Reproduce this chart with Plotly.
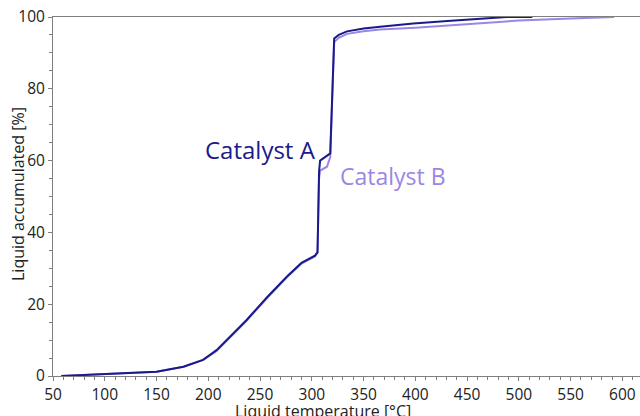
import plotly.graph_objects as go

# Catalyst A data
temp_a = [58, 86, 118, 150, 176, 195, 208, 218, 237, 257, 276, 290, 303, 305.5, 307, 308, 317.8, 321.6, 326, 334, 350, 366, 398, 431, 488, 513]
liq_a = [0.0, 0.4, 0.8, 1.2, 2.6, 4.5, 7.2, 10.0, 15.6, 22.0, 27.7, 31.5, 33.5, 34.5, 57.0, 60.0, 62.0, 94.0, 95.0, 96.0, 96.8, 97.3, 98.2, 98.9, 100.0, 100.0]

# Catalyst B data
temp_b = [58, 86, 118, 150, 176, 195, 208, 218, 237, 257, 276, 290, 303, 305.5, 307, 308, 314.6, 317.8, 321.6, 326, 334, 350, 366, 400, 450, 500, 550, 592]
liq_b = [0.0, 0.4, 0.8, 1.2, 2.6, 4.5, 7.0, 9.8, 15.4, 21.8, 27.5, 31.3, 33.3, 34.3, 55.0, 57.2, 58.3, 61.0, 93.0, 94.2, 95.3, 96.0, 96.5, 97.0, 98.0, 99.0, 99.6, 100.0]

x_title = "Liquid temperature [°C]"
y_title = "Liquid accumulated [%]"

color_a = "#1a1a8c"
color_b = "#9a86e6"
font_family = "Open Sans"
text_color = "#222222"

fig = go.Figure()
fig.add_trace(go.Scatter(x=temp_b, y=liq_b, mode="lines", line=dict(color=color_b, width=2), name="Catalyst B"))
fig.add_trace(go.Scatter(x=temp_a, y=liq_a, mode="lines", line=dict(color=color_a, width=2), name="Catalyst A"))

fig.add_annotation(x=306, y=63, text="Catalyst A", showarrow=False, xanchor="right", yanchor="middle",
                   font=dict(size=24, color=color_a, family=font_family))
fig.add_annotation(x=325, y=55.7, text="Catalyst B", showarrow=False, xanchor="left", yanchor="middle",
                   font=dict(size=23, color=color_b, family=font_family))

# plot area: x 53..640, y 17..376 (height 359, width 587)
fig.add_annotation(xref="paper", yref="paper", x=(323 - 53) / 587, y=(376 - 411) / 359, text=x_title, showarrow=False,
                   xanchor="center", yanchor="middle", font=dict(size=16, color=text_color, family=font_family))
fig.add_annotation(xref="paper", yref="paper", x=(18 - 53) / 587, y=(376 - 194) / 359, text=y_title, showarrow=False,
                   textangle=-90, xanchor="center", yanchor="middle",
                   font=dict(size=16, color=text_color, family=font_family))

axis_common = dict(showgrid=False, zeroline=False, showline=True, linecolor="#7f7f7f", linewidth=1,
                   ticks="outside", tickcolor="#7f7f7f", ticklen=4, automargin=False,
                   ticklabeloverflow="allow",
                   tickfont=dict(size=15.5, color=text_color, family=font_family))

fig.update_xaxes(range=[50, 617], dtick=50, tick0=50, mirror=True,
                 minor=dict(ticks="outside", ticklen=3, dtick=10, tickcolor="#7f7f7f"),
                 **axis_common)
fig.update_yaxes(range=[0, 100], dtick=20, mirror=True,
                 minor=dict(ticks="outside", ticklen=3, dtick=5, tickcolor="#7f7f7f"),
                 **axis_common)

fig.update_layout(width=640, height=416, margin=dict(l=53, r=0, t=17, b=40, autoexpand=False),
                  paper_bgcolor="white", plot_bgcolor="white", showlegend=False,
                  font=dict(family=font_family))

fig.write_html("out.html", config={"displayModeBar": False},
               post_script="document.body.style.margin='0';document.body.style.overflow='hidden';")
